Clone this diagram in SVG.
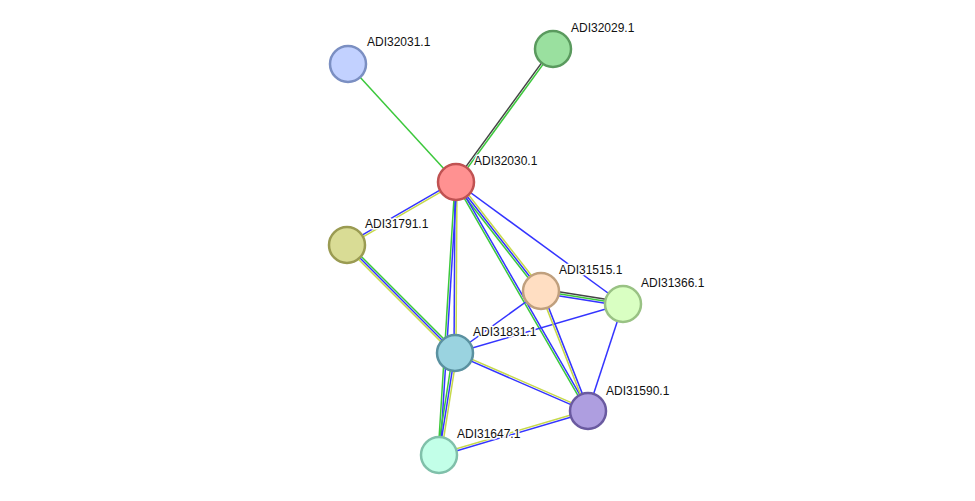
<svg xmlns="http://www.w3.org/2000/svg" width="975" height="501" viewBox="0 0 975 501">
<style>
line{stroke-width:1.5;fill:none}
.g{stroke:#3cc83c}.b{stroke:#3434ff}.y{stroke:#c6d94a}.k{stroke:#444}
circle{stroke-width:2.5}
text{font-family:"Liberation Sans",Arial,sans-serif;font-size:12px;fill:#111;stroke:#fff;stroke-width:3;paint-order:stroke;stroke-linejoin:round}
</style>
<rect width="975" height="501" fill="#fff"/>
<g id="edges">
<line class="g" x1="348" y1="64" x2="456" y2="182"/>
<g transform="translate(456 182) rotate(-53.9)"><line class="k" x2="164.6" y1="-1" y2="-1"/><line class="g" x2="164.6" y1="1" y2="1"/></g>
<g transform="translate(456 182) rotate(149.97)"><line class="b" x2="125.9" y1="1" y2="1"/><line class="y" x2="125.9" y1="-1" y2="-1"/></g>
<g transform="translate(456 182) rotate(90.33)"><line class="b" x2="171" y1="1" y2="1"/><line class="y" x2="171" y1="-1" y2="-1"/></g>
<g transform="translate(456 182) rotate(93.56)"><line class="g" x2="273.5" y1="1" y2="1"/><line class="b" x2="273.5" y1="-1" y2="-1"/></g>
<g transform="translate(456 182) rotate(52.05)"><line class="g" x2="138.2" y1="2" y2="2"/><line class="b" x2="138.2" y1="0" y2="0"/><line class="y" x2="138.2" y1="-2" y2="-2"/></g>
<g transform="translate(456 182) rotate(60.04)"><line class="g" x2="264.3" y1="1" y2="1"/><line class="b" x2="264.3" y1="-1" y2="-1"/></g>
<line class="b" x1="456" y1="182" x2="623" y2="304"/>
<g transform="translate(347 245) rotate(45)"><line class="g" x2="152.7" y1="-2" y2="-2"/><line class="b" x2="152.7" y1="0" y2="0"/><line class="y" x2="152.7" y1="2" y2="2"/></g>
<g transform="translate(541 291) rotate(9.01)"><line class="k" x2="83" y1="-2" y2="-2"/><line class="g" x2="83" y1="0" y2="0"/><line class="b" x2="83" y1="2" y2="2"/></g>
<line class="b" x1="541" y1="291" x2="455" y2="353"/>
<line class="b" x1="623" y1="304" x2="455" y2="353"/>
<line class="b" x1="623" y1="304" x2="588" y2="411"/>
<g transform="translate(455 353) rotate(23.56)"><line class="y" x2="145.1" y1="-1" y2="-1"/><line class="b" x2="145.1" y1="1" y2="1"/></g>
<g transform="translate(455 353) rotate(98.9)"><line class="g" x2="103.2" y1="2" y2="2"/><line class="b" x2="103.2" y1="0" y2="0"/><line class="y" x2="103.2" y1="-2" y2="-2"/></g>
<g transform="translate(439 455) rotate(-16.45)"><line class="y" x2="155.4" y1="-1" y2="-1"/><line class="b" x2="155.4" y1="1" y2="1"/></g>
<g transform="translate(541 291) rotate(68.6)"><line class="b" x2="128.9" y1="-1" y2="-1"/><line class="y" x2="128.9" y1="1" y2="1"/></g>
</g>
<g id="ADI32031.1"><circle cx="348" cy="64" r="18" fill="#c2d1ff" stroke="#7b8fc2"/><text x="367" y="46">ADI32031.1</text></g>
<g id="ADI32029.1"><circle cx="553" cy="49" r="18" fill="#9ae09f" stroke="#5a9a5e"/><text x="571" y="32">ADI32029.1</text></g>
<g id="ADI32030.1"><circle cx="456" cy="182" r="18" fill="#ff9191" stroke="#c05252"/><text x="474" y="165">ADI32030.1</text></g>
<g id="ADI31791.1"><circle cx="347" cy="245" r="18" fill="#d9dc95" stroke="#9a9b52"/><text x="365" y="228">ADI31791.1</text></g>
<g id="ADI31515.1"><circle cx="541" cy="291" r="18" fill="#ffdec2" stroke="#c0a07e"/><text x="559" y="274">ADI31515.1</text></g>
<g id="ADI31366.1"><circle cx="623" cy="304" r="18" fill="#d9ffc2" stroke="#99c284"/><text x="641" y="287">ADI31366.1</text></g>
<g id="ADI31831.1"><circle cx="455" cy="353" r="18" fill="#9ad3e0" stroke="#5a91a0"/><text x="473" y="336">ADI31831.1</text></g>
<g id="ADI31590.1"><circle cx="588" cy="411" r="18" fill="#ae9ee0" stroke="#6a5aa0"/><text x="606" y="395">ADI31590.1</text></g>
<g id="ADI31647.1"><circle cx="439" cy="455" r="18" fill="#c2ffe8" stroke="#80c0aa"/><text x="457" y="438">ADI31647.1</text></g>
</svg>
